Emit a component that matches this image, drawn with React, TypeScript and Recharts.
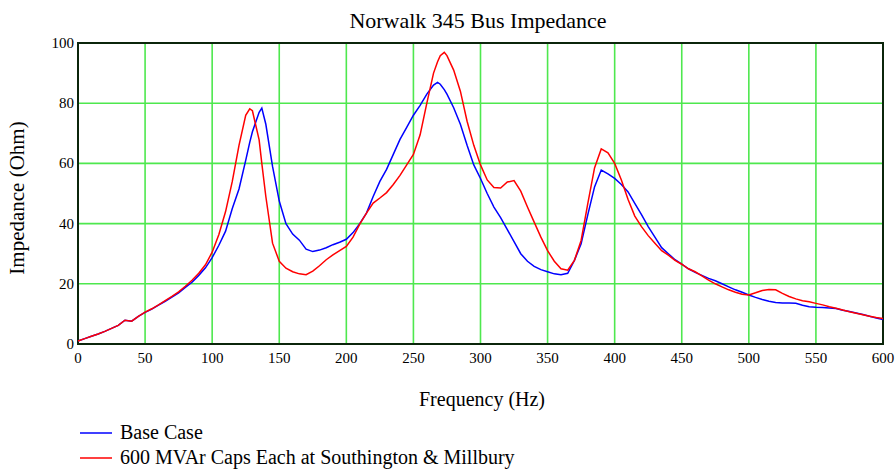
import { CartesianGrid, Legend, Line, LineChart, ReferenceArea, XAxis, YAxis } from "recharts"

// frequency samples (Hz)
const freq = [
  0, 5, 10, 15, 20, 25, 30, 35, 40, 45, 50, 55, 60, 65, 70, 75, 80, 85, 90, 95,
  100, 105, 110, 115, 120, 125, 128, 130, 135, 137, 140, 145, 150, 155, 160, 165, 170, 175, 180, 185, 190, 195,
  200, 205, 210, 215, 220, 225, 230, 235, 240, 245, 250, 255, 260, 265, 268, 270, 273, 275, 280, 285, 290, 295,
  300, 305, 310, 315, 320, 325, 330, 335, 340, 345, 350, 355, 360, 365, 370, 375, 380, 385, 390, 395,
  400, 405, 410, 415, 420, 425, 430, 435, 440, 445, 450, 455, 460, 465, 470, 475, 480, 485, 490, 495,
  500, 505, 510, 515, 520, 525, 530, 535, 540, 545, 550, 555, 560, 565, 570, 575, 580, 585, 590, 595,
  600,
]

// Base Case impedance (Ohm)
const baseCase = [
  1.0, 1.8, 2.6, 3.3, 4.2, 5.2, 6.2, 7.9, 7.6, 9.2, 10.5, 11.6, 12.9, 14.2, 15.6, 17.0, 18.8, 20.5, 22.8, 25.3,
  28.7, 32.8, 37.5, 45.0, 51.5, 61.0, 67.0, 70.5, 77.0, 78.4, 73.0, 59.0, 47.5, 40.0, 36.5, 34.5, 31.5, 30.7, 31.2, 32.0, 33.0, 33.8,
  34.8, 37.0, 40.0, 43.5, 49.0, 54.0, 58.0, 63.0, 68.0, 72.0, 76.0, 79.3, 83.0, 86.0, 86.9, 86.3, 84.5, 83.0, 78.5, 73.0, 66.0, 59.5,
  55.0, 50.0, 45.5, 42.0, 38.0, 34.0, 30.0, 27.5, 25.8, 24.7, 24.0, 23.3, 23.0, 23.5, 27.8, 33.3, 43.0, 52.2, 57.8, 56.5,
  55.0, 53.0, 50.5, 46.7, 43.0, 39.0, 35.5, 32.0, 30.0, 28.0, 26.5, 25.0, 23.8, 22.8, 21.8, 21.0, 20.0, 19.0, 18.0, 17.2,
  16.3, 15.5, 14.8, 14.2, 13.8, 13.6, 13.6, 13.5, 12.9, 12.4, 12.2, 12.1, 12.0, 11.8, 11.2, 10.8, 10.3, 9.8, 9.2, 8.6,
  8.1,
]

// 600 MVAr caps at Southington & Millbury (Ohm)
const withCaps = [
  1.0, 1.8, 2.6, 3.3, 4.2, 5.2, 6.2, 7.9, 7.6, 9.2, 10.6, 11.7, 13.0, 14.4, 15.8, 17.3, 19.2, 21.2, 23.5, 26.3,
  30.5, 36.4, 44.0, 54.0, 66.0, 76.0, 78.1, 77.5, 67.8, 60.0, 49.0, 33.5, 27.5, 25.2, 24.0, 23.3, 23.0, 24.2, 26.0, 28.0, 29.6, 31.0,
  32.4, 35.5, 39.8, 43.5, 46.8, 48.5, 50.3, 53.0, 56.0, 59.5, 63.0, 69.5, 80.0, 90.0, 93.8, 95.8, 96.9, 95.8, 91.0, 84.0, 74.0, 66.0,
  59.5, 54.5, 52.0, 51.8, 53.8, 54.3, 50.8, 45.5, 40.5, 35.5, 31.0, 27.5, 25.0, 24.5, 27.8, 34.4, 46.7, 58.5, 64.8, 63.5,
  60.0, 54.5, 48.0, 42.5, 39.0, 36.0, 33.5, 31.0, 29.5, 27.8, 26.5, 25.0, 24.0, 22.6, 21.2, 20.0, 19.0, 18.0, 17.2, 16.5,
  16.3, 17.0, 17.8, 18.1, 18.0, 16.8, 15.8, 15.0, 14.4, 14.0, 13.5, 13.0, 12.4, 11.9, 11.3, 10.7, 10.2, 9.7, 9.2, 8.8,
  8.5,
]

const xTicks = [0, 50, 100, 150, 200, 250, 300, 350, 400, 450, 500, 550, 600]
const yTicks = [0, 20, 40, 60, 80, 100]

const seriesNames = ["Base Case", "600 MVAr Caps Each at Southington & Millbury"]
const seriesColors = ["#0000ff", "#ff0000"]

const data = freq.map((f, i) => ({ f, base: baseCase[i], caps: withCaps[i] }))

const font = "'Liberation Serif', 'Times New Roman', serif"

function XTick(props: any) {
  const { x, y, payload } = props
  return (
    <text x={x} y={y + 11} textAnchor="middle" fontSize={15} fontFamily={font} fill="#000">
      {payload.value}
    </text>
  )
}

function YTick(props: any) {
  const { x, y, payload } = props
  return (
    <text x={x} y={y + 5} textAnchor="end" fontSize={15} fontFamily={font} fill="#000">
      {payload.value}
    </text>
  )
}

function LegendBox() {
  return (
    <div style={{ fontFamily: font, fontSize: 20, color: "#000" }}>
      {seriesNames.map((name, i) => (
        <div key={name} style={{ display: "flex", alignItems: "center", height: 25 }}>
          <svg width={32} height={4} style={{ marginRight: 8 }}>
            <line x1={0} y1={2} x2={32} y2={2} stroke={seriesColors[i]} strokeWidth={2} strokeOpacity={0.75} />
          </svg>
          <span style={{ whiteSpace: "nowrap", lineHeight: "25px" }}>{name}</span>
        </div>
      ))}
    </div>
  )
}

export default function App() {
  return (
    <div style={{ position: "absolute", left: 0, top: 0, width: 896, height: 469, background: "#fff" }}>
      <LineChart width={896} height={469} data={data} margin={{ top: 43, right: 13, left: 48, bottom: 95 }}>
        <CartesianGrid stroke="#4ee84e" strokeWidth={1.6} />
        <XAxis
          dataKey="f"
          type="number"
          domain={[0, 600]}
          ticks={xTicks}
          height={30}
          tickSize={0}
          tickMargin={8}
          axisLine={false}
          tick={<XTick />}
          interval={0}
        />
        <YAxis
          type="number"
          domain={[0, 100]}
          ticks={yTicks}
          width={30}
          tickSize={0}
          tickMargin={4}
          axisLine={false}
          tick={<YTick />}
          interval={0}
        />
        <ReferenceArea
          x1={0}
          x2={600}
          y1={0}
          y2={100}
          fill="none"
          fillOpacity={0}
          stroke="#0b250b"
          strokeWidth={2}
          ifOverflow="visible"
        />
        <Line
          type="linear"
          dataKey="base"
          name={seriesNames[0]}
          stroke={seriesColors[0]}
          strokeWidth={1.5}
          dot={false}
          isAnimationActive={false}
        />
        <Line
          type="linear"
          dataKey="caps"
          name={seriesNames[1]}
          stroke={seriesColors[1]}
          strokeWidth={1.5}
          dot={false}
          isAnimationActive={false}
        />
        <Legend
          layout="horizontal"
          verticalAlign="middle"
          align="center"
          content={<LegendBox />}
          wrapperStyle={{ left: 80, top: 420, width: 500, height: 50 }}
        />
      </LineChart>
      <svg width={896} height={469} style={{ position: "absolute", left: 0, top: 0, pointerEvents: "none" }}>
        <text x={478} y={28} textAnchor="middle" fontSize={22} fontFamily={font} fill="#000">
          Norwalk 345 Bus Impedance
        </text>
        <text
          x={23.5}
          y={198}
          transform="rotate(-90, 23.5, 198)"
          textAnchor="middle"
          fontSize={21}
          fontFamily={font}
          fill="#000"
        >
          Impedance (Ohm)
        </text>
        <text x={482} y={406} textAnchor="middle" fontSize={20} fontFamily={font} fill="#000">
          Frequency (Hz)
        </text>
      </svg>
    </div>
  )
}
